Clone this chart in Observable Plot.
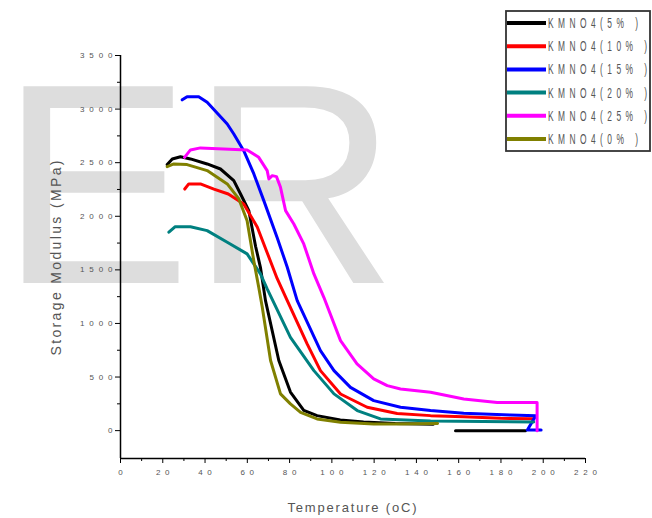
<!DOCTYPE html>
<html>
<head>
<meta charset="utf-8">
<script src="https://cdn.jsdelivr.net/npm/d3@7"></script>
<script src="https://cdn.jsdelivr.net/npm/@observablehq/plot@0.6"></script>
<style>
  html, body { margin: 0; padding: 0; background: #fff; }
  #chart { position: relative; width: 652px; height: 518px; overflow: hidden; }
</style>
</head>
<body>
<div id="chart"></div>
<script>
// Storage modulus vs temperature for KMnO4-treated samples
const seriesLabels = ["KMNO4(5% )", "KMNO4(10% )", "KMNO4(15% )", "KMNO4(20% )", "KMNO4(25% )", "KMNO4(0% )"];
const seriesColors = ["#000000", "#ff0000", "#0000ff", "#008080", "#ff00ff", "#808000"];

// temperature (°C) / storage modulus (MPa) per loading
const temp5 = [22.1, 24.5, 28.4, 33.1, 41, 47.3, 53.6, 56.8, 60.7, 63.9, 66.2, 68.6, 74.9, 80.4, 86.7, 93, 104, 115, 130, 148, null, 158.5, 191.6];
const mod5  = [2482, 2535, 2556, 2535, 2488, 2441, 2333, 2208, 2053, 1720, 1524, 1213, 654, 360, 190, 140, 100, 80, 66, 60, null, 0, 0];

const temp10 = [30.4, 32.3, 37.8, 44.2, 51, 58.3, 64.7, 69.4, 74.1, 78.9, 88.3, 94.6, 104.1, 116.7, 130.9, 146.7, 162.4, 179.8, 195.5];
const mod10  = [2254, 2302, 2302, 2254, 2208, 2115, 1900, 1660, 1420, 1214, 809, 560, 342, 218, 160, 140, 130, 115, 110];

const temp15 = [29.2, 31.5, 37, 41, 50.5, 53.6, 58.3, 63.1, 67.8, 74.1, 78.9, 83.6, 94.6, 101, 108.8, 119.8, 132.5, 146.7, 162.4, 184.5, 196.5, 192.5, 199];
const mod15  = [3086, 3116, 3116, 3063, 2861, 2768, 2612, 2395, 2146, 1803, 1524, 1213, 747, 560, 404, 280, 218, 187, 162, 145, 140, 5, 5];

const temp20 = [22.9, 25.9, 33.1, 41, 50.5, 59.9, 66.2, 69.4, 80.4, 91.5, 101, 112, 123, 146.7, 195.5];
const mod20  = [1851, 1903, 1903, 1866, 1757, 1649, 1462, 1322, 871, 560, 343, 187, 109, 90, 80];

const temp25 = [30.3, 33.1, 37.8, 59.9, 65.4, 69.4, 70.2, 71.8, 73.8, 75.7, 78.1, 82, 86.7, 91.5, 96.2, 104.1, 111.9, 119.8, 126.2, 132.5, 146.7, 162.4, 178.2, 197.1, 197.1];
const mod25  = [2550, 2619, 2638, 2619, 2550, 2426, 2348, 2379, 2370, 2270, 2053, 1928, 1742, 1462, 1244, 840, 623, 483, 420, 389, 358, 296, 262, 262, 0];

const temp0 = [22.1, 25.2, 31.5, 41, 50.5, 56, 59.9, 63.1, 65.4, 67, 71, 75.7, 80.4, 85.2, 93, 104.1, 119.8, 132.5, 150];
const mod0  = [2463, 2488, 2482, 2426, 2302, 2162, 1959, 1580, 1337, 1160, 654, 343, 250, 171, 109, 78, 62, 62, 66];

const yTicks = d3.range(0, 3501, 500);
const yMinorTicks = d3.range(250, 3500, 500);
const xTicks = d3.range(0, 221, 20);
const xMinorTicks = d3.range(10, 220, 20);

const series = [
  {label: seriesLabels[0], color: seriesColors[0], t: temp5,  m: mod5},
  {label: seriesLabels[1], color: seriesColors[1], t: temp10, m: mod10},
  {label: seriesLabels[2], color: seriesColors[2], t: temp15, m: mod15},
  {label: seriesLabels[3], color: seriesColors[3], t: temp20, m: mod20},
  {label: seriesLabels[4], color: seriesColors[4], t: temp25, m: mod25},
  {label: seriesLabels[5], color: seriesColors[5], t: temp0,  m: mod0}
];
const toRows = s => s.t.map((t, i) => ({t, m: s.m[i]}));

const fontFamily = '"Liberation Sans", Arial, sans-serif';
const textGray = "#555";

const chart = Plot.plot({
  width: 652,
  height: 518,
  marginLeft: 120,
  marginRight: 67,
  marginTop: 55,
  marginBottom: 60,
  style: {background: "transparent", fontFamily, overflow: "visible"},
  x: {domain: [0, 220]},
  y: {domain: [-260, 3500]},
  marks: [
    Plot.axisY({ticks: yTicks, tickSize: 5, tickPadding: 3, tickFormat: d => String(d), label: null, fontSize: 8, fill: textGray, stroke: "black"}),
    Plot.axisY({ticks: yMinorTicks, tickSize: 3, text: null, label: null, stroke: "black"}),
    Plot.axisX({ticks: xTicks, tickSize: 5, tickPadding: 6, tickFormat: d => String(d), label: null, fontSize: 8, fill: textGray, stroke: "black"}),
    Plot.axisX({ticks: xMinorTicks, tickSize: 3, text: null, label: null, stroke: "black"}),
    Plot.ruleX([0], {stroke: "black", strokeWidth: 1.5}),
    Plot.ruleY([-260], {stroke: "black", strokeWidth: 1.5}),
    ...series.map(s => Plot.line(toRows(s), {
      x: "t", y: "m", stroke: s.color, strokeWidth: 3, strokeLinejoin: "round"
    }))
  ]
});

document.getElementById("chart").appendChild(chart);
const svg = d3.select(chart);

// spaced-out tick numerals
svg.selectAll('g[aria-label="y-axis tick label"] text, g[aria-label="x-axis tick label"] text')
  .each(function () {
    const n = this.textContent.length;
    if (n > 1) d3.select(this).attr("textLength", (n - 1) * 9.5 + 4).attr("lengthAdjust", "spacing");
  });

// faint "ER" lettering behind the plot
svg.insert("text", "g")
  .attr("x", 0)
  .attr("y", 283)
  .attr("text-anchor", "start")
  .attr("font-family", fontFamily)
  .attr("font-size", 286)
  .attr("fill", "#dddddd")
  .text("ER");

// axis titles
svg.append("text")
  .attr("x", 352)
  .attr("y", 512)
  .attr("text-anchor", "middle")
  .attr("font-family", fontFamily)
  .attr("font-size", 13)
  .attr("fill", textGray)
  .attr("textLength", 129)
  .attr("lengthAdjust", "spacing")
  .text("Temperature (oC)");

svg.append("text")
  .attr("transform", "translate(61,258) rotate(-90)")
  .attr("text-anchor", "middle")
  .attr("font-family", fontFamily)
  .attr("font-size", 14)
  .attr("fill", textGray)
  .attr("textLength", 195)
  .attr("lengthAdjust", "spacing")
  .text("Storage Modulus (MPa)");

// legend box
const legend = svg.append("g").attr("transform", "translate(506,11)");
legend.append("rect")
  .attr("width", 144).attr("height", 140)
  .attr("fill", "white").attr("stroke", "#333").attr("stroke-width", 1.8);
series.forEach((s, i) => {
  const y = 12 + i * 23.2;
  legend.append("line")
    .attr("x1", 1).attr("x2", 40).attr("y1", y).attr("y2", y)
    .attr("stroke", s.color).attr("stroke-width", 4);
  const w = s.label.length === 10 ? 90 : 99;
  legend.append("text")
    .attr("transform", `translate(42,${y + 5}) scale(0.6,1)`)
    .attr("text-anchor", "start")
    .attr("font-family", fontFamily)
    .attr("font-size", 14)
    .attr("fill", textGray)
    .attr("textLength", w / 0.6)
    .attr("lengthAdjust", "spacing")
    .text(s.label);
});
</script>
</body>
</html>
